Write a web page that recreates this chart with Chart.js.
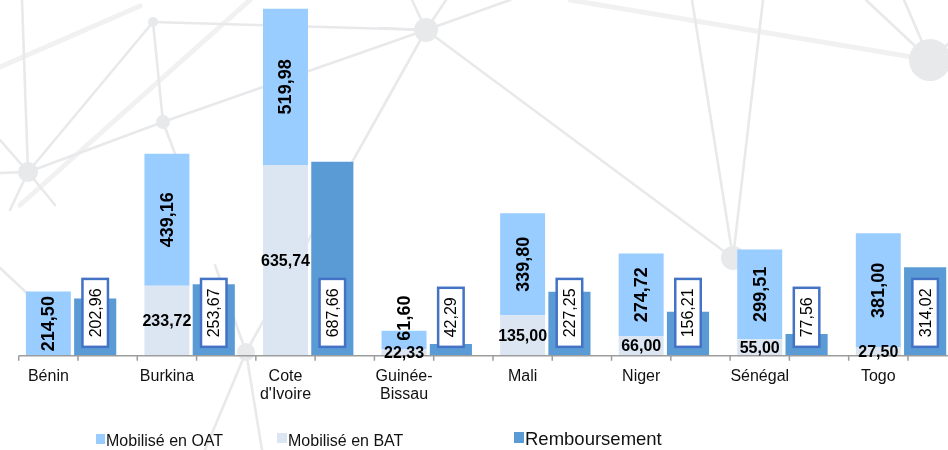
<!DOCTYPE html>
<html>
<head>
<meta charset="utf-8">
<script src="https://cdn.jsdelivr.net/npm/chart.js@4"></script>
<style>
  html, body { margin: 0; padding: 0; background: #fff; overflow: hidden; }
  #wrap { position: relative; width: 948px; height: 450px; overflow: hidden; }
  #wrap canvas { position: absolute; left: 0; top: 0; }
</style>
</head>
<body>
<div id="wrap"><canvas id="chart" width="961" height="450"></canvas></div>
<script>
// data
const countries = ['Bénin', 'Burkina', ['Cote', "d'Ivoire"], ['Guinée-', 'Bissau'], 'Mali', 'Niger', 'Sénégal', 'Togo'];
const oatValues = [214.50, 439.16, 519.98, 61.60, 339.80, 274.72, 299.51, 381.00];
const batValues = [null, 233.72, 635.74, 22.33, 135.00, 66.00, 55.00, 27.50];
const rembValues = [202.96, 253.67, 687.66, 42.29, 227.25, 156.21, 77.56, 314.02];

const FONT = '"Liberation Sans", Arial, sans-serif';
const colors = {
  oat: '#99ccff',
  bat: '#dce6f2',
  remb: '#5b9bd5',
  boxLine: '#4472c4',
  axis: '#9c9c9c',
  text: '#111111',
  net: '#e8e9eb'
};

// faint network picture in the background (decoration only)
const netLines = [
  [22, 0, 28, 172], [153, 22, 163, 122], [28, 172, 163, 122], [28, 172, 153, 22],
  [153, 22, 426, 30], [163, 122, 426, 30], [163, 122, 185, 180], [0, 140, 28, 172],
  [0, 173, 28, 172], [28, 172, 10, 210], [28, 172, 55, 205], [426, 30, 246, 352],
  [426, 30, 380, 28], [426, 30, 412, 0], [426, 30, 446, 0], [426, 30, 510, 0],
  [426, 30, 733, 258], [763, 0, 733, 258], [692, 0, 733, 258], [930, 60, 866, 0],
  [930, 60, 904, 0], [930, 60, 948, 44], [246, 352, 205, 450], [246, 352, 215, 265],
  [0, 268, 30, 296], [246, 352, 262, 450]
];
const netWideLines = [[0, 67, 140, 6], [20, 205, 250, 0], [570, 0, 930, 60]];
const netNodes = [[28, 172, 10], [153, 22, 5], [163, 122, 7], [426, 30, 12], [930, 60, 21], [733, 258, 12], [246, 352, 9]];

const legendItems = [
  { ds: 1, x: 96, y: 434, w: 9, h: 10, size: 16, base: 446 },
  { ds: 0, x: 277, y: 433, w: 10, h: 10, size: 16, base: 446 },
  { ds: 2, x: 514, y: 432, w: 10, h: 11, size: 18.5, base: 444.5 }
];

function fmt(v) {
  return v.toFixed(2).replace('.', ',');
}

const backdrop = {
  id: 'backdrop',
  beforeDraw(chart) {
    const ctx = chart.ctx;
    ctx.save();
    ctx.fillStyle = '#fff';
    ctx.fillRect(0, 0, chart.width, chart.height);
    ctx.lineCap = 'round';
    ctx.strokeStyle = '#f1f1f2';
    ctx.lineWidth = 5;
    netWideLines.forEach(l => {
      ctx.beginPath(); ctx.moveTo(l[0], l[1]); ctx.lineTo(l[2], l[3]); ctx.stroke();
    });
    ctx.strokeStyle = colors.net;
    ctx.lineWidth = 2.6;
    netLines.forEach(l => {
      ctx.beginPath(); ctx.moveTo(l[0], l[1]); ctx.lineTo(l[2], l[3]); ctx.stroke();
    });
    ctx.fillStyle = colors.net;
    netNodes.forEach(n => {
      ctx.beginPath(); ctx.arc(n[0], n[1], n[2], 0, Math.PI * 2); ctx.fill();
    });
    ctx.restore();
  }
};

function rotatedText(ctx, text, x, y) {
  ctx.save();
  ctx.translate(x, y);
  ctx.rotate(-Math.PI / 2);
  ctx.fillText(text, 0, 0);
  ctx.restore();
}

const barLabels = {
  id: 'barLabels',
  afterDatasetsDraw(chart) {
    const ctx = chart.ctx;
    const xs = chart.scales.x;
    const base = chart.scales.y.getPixelForValue(0);
    const quarter = (xs.getPixelForValue(1) - xs.getPixelForValue(0)) / 4;
    const oatMeta = chart.getDatasetMeta(1);
    const batMeta = chart.getDatasetMeta(0);
    const rembMeta = chart.getDatasetMeta(2);

    ctx.save();
    // axis line with a tick every half category
    ctx.strokeStyle = colors.axis;
    ctx.lineWidth = 1.5;
    ctx.beginPath();
    ctx.moveTo(oatMeta.data[0].x - quarter, base);
    ctx.lineTo(chart.width, base);
    oatMeta.data.forEach(bar => {
      [bar.x - quarter, bar.x + quarter].forEach(tx => {
        ctx.moveTo(tx, base);
        ctx.lineTo(tx, base + 5);
      });
    });
    ctx.stroke();

    ctx.fillStyle = '#000';
    ctx.textAlign = 'center';
    ctx.textBaseline = 'middle';

    // BAT: horizontal, bold
    ctx.font = 'bold 16px ' + FONT;
    batMeta.data.forEach((bar, i) => {
      if (batValues[i] == null) return;
      ctx.fillText(fmt(batValues[i]), bar.x, (bar.y + bar.base) / 2 + 1);
    });

    // OAT: vertical, bold
    ctx.font = 'bold 18px ' + FONT;
    oatMeta.data.forEach((bar, i) => {
      const txt = fmt(oatValues[i]);
      const len = ctx.measureText(txt).width;
      const segH = bar.base - bar.y;
      const cy = segH > len ? (bar.y + bar.base) / 2 : bar.y + 10 - len / 2;
      rotatedText(ctx, txt, bar.x + 1, cy);
    });

    // Remboursement: vertical text in a framed white box
    ctx.font = '16px ' + FONT;
    rembMeta.data.forEach((bar, i) => {
      const txt = fmt(rembValues[i]);
      const len = ctx.measureText(txt).width;
      const boxH = len + 19;
      const bottom = base - 9;
      const top = bottom - boxH;
      ctx.fillStyle = '#fff';
      ctx.fillRect(bar.x - 12.75, top, 25.5, boxH);
      ctx.strokeStyle = colors.boxLine;
      ctx.lineWidth = 2.5;
      ctx.strokeRect(bar.x - 12.75, top, 25.5, boxH);
      ctx.fillStyle = '#000';
      rotatedText(ctx, txt, bar.x + 1, top + boxH / 2);
    });
    ctx.restore();
  },
  afterDraw(chart) {
    const ctx = chart.ctx;
    ctx.save();
    ctx.textBaseline = 'alphabetic';
    ctx.textAlign = 'left';
    legendItems.forEach(it => {
      const ds = chart.data.datasets[it.ds];
      ctx.fillStyle = ds.backgroundColor;
      ctx.fillRect(it.x, it.y, it.w, it.h);
      ctx.fillStyle = colors.text;
      ctx.font = it.size + 'px ' + FONT;
      ctx.fillText(ds.label, it.x + it.w + 1, it.base);
    });
    ctx.restore();
  }
};

new Chart(document.getElementById('chart'), {
  type: 'bar',
  data: {
    labels: countries,
    datasets: [
      {
        label: 'Mobilisé en BAT',
        data: batValues,
        backgroundColor: colors.bat,
        stack: 'mobilise',
        yAxisID: 'y',
        barPercentage: 0.96,
        categoryPercentage: 0.79
      },
      {
        label: 'Mobilisé en OAT',
        data: oatValues,
        backgroundColor: colors.oat,
        stack: 'mobilise',
        yAxisID: 'y',
        barPercentage: 0.96,
        categoryPercentage: 0.79
      },
      {
        label: 'Remboursement',
        data: rembValues,
        backgroundColor: colors.remb,
        stack: 'remb',
        yAxisID: 'y2',
        barPercentage: 0.9,
        categoryPercentage: 0.79
      }
    ]
  },
  options: {
    responsive: false,
    animation: false,
    layout: { padding: { left: 12.5, right: 0, top: 0, bottom: 34 } },
    plugins: {
      legend: { display: false },
      tooltip: { enabled: false }
    },
    scales: {
      x: {
        offset: true,
        grid: { display: false, drawTicks: false },
        border: { display: false },
        ticks: {
          autoSkip: false,
          maxRotation: 0,
          padding: 12,
          labelOffset: -23.4,
          color: colors.text,
          font: { family: FONT, size: 16, lineHeight: 1.13 }
        }
      },
      y: { display: false, stacked: true, min: 0, max: 1185 },
      y2: { display: false, stacked: true, min: 0, max: 1260 }
    }
  },
  plugins: [backdrop, barLabels]
});
</script>
</body>
</html>
